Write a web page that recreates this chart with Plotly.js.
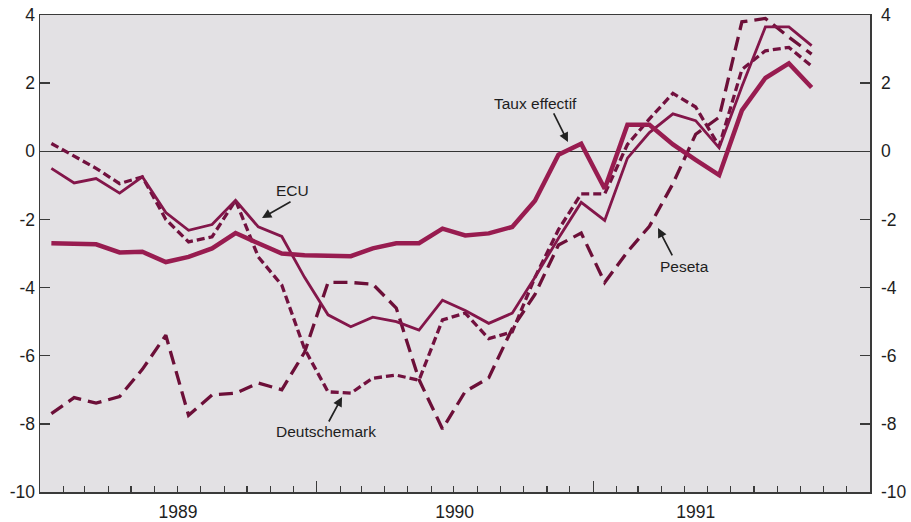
<!DOCTYPE html>
<html><head><meta charset="utf-8">
<script src="https://cdn.plot.ly/plotly-3.0.1.min.js"></script>
<style>html,body{margin:0;padding:0;background:#fff}#chart{width:911px;height:522px}</style>
</head><body><div id="chart"></div>
<script>
const months = [
  "1989-01-16","1989-02-15","1989-03-16","1989-04-16","1989-05-16","1989-06-16",
  "1989-07-16","1989-08-16","1989-09-16","1989-10-16","1989-11-16","1989-12-16",
  "1990-01-16","1990-02-15","1990-03-16","1990-04-16","1990-05-16","1990-06-16",
  "1990-07-16","1990-08-16","1990-09-16","1990-10-16","1990-11-16","1990-12-16",
  "1991-01-16","1991-02-15","1991-03-16","1991-04-16","1991-05-16","1991-06-16",
  "1991-07-16","1991-08-16","1991-09-16","1991-10-16"
];
const tauxEffectif = [-2.70,-2.72,-2.73,-2.97,-2.95,-3.25,-3.10,-2.85,-2.40,-2.70,-3.00,-3.05,
  -3.05,-3.08,-2.85,-2.70,-2.70,-2.27,-2.47,-2.41,-2.22,-1.45,-0.10,0.22,
  -1.10,0.78,0.78,0.20,-0.25,-0.70,1.20,2.15,2.58,1.87];
const ecu = [-0.50,-0.93,-0.80,-1.23,-0.75,-1.80,-2.32,-2.15,-1.44,-2.22,-2.50,-3.70,
  -4.80,-5.15,-4.87,-5.00,-5.25,-4.37,-4.67,-5.05,-4.75,-3.70,-2.55,-1.50,
  -2.03,-0.20,0.55,1.10,0.90,0.10,1.90,3.65,3.65,3.10];
const deutschemark = [0.23,-0.15,-0.50,-0.95,-0.75,-2.00,-2.66,-2.51,-1.44,-3.10,-3.93,-5.80,
  -7.06,-7.10,-6.66,-6.57,-6.72,-4.95,-4.75,-5.50,-5.30,-3.70,-2.30,-1.25,
  -1.25,0.20,0.95,1.70,1.30,0.15,2.40,2.95,3.05,2.50];
const peseta = [-7.70,-7.23,-7.39,-7.20,-6.40,-5.40,-7.75,-7.15,-7.10,-6.80,-7.00,-5.90,
  -3.85,-3.85,-3.90,-4.60,-6.70,-8.15,-7.05,-6.65,-5.20,-4.20,-2.75,-2.40,
  -3.85,-2.95,-2.20,-0.95,0.50,1.00,3.80,3.90,3.35,2.85];
const yearLabels = ["1989","1990","1991"];
const yearLabelDates = ["1989-07-02","1990-07-02","1991-05-16"];
const yearBoundaries = ["1989-01-01","1990-01-01","1991-01-01","1992-01-01"];
const yTicks = [-10,-8,-6,-4,-2,0,2,4];
const yTickText = ["-10","-8","-6","-4","-2","0","2","4"];

const axisCol = '#3a3a3a';
const tickFont = {family:'Liberation Sans, Arial, sans-serif', size:17.5, color:'#1e1e1e'};

const traces = [
  {x:months, y:peseta, name:'Peseta', mode:'lines', line:{color:'#6c0f38', width:3.3, dash:'14px,7px'}},
  {x:months, y:deutschemark, name:'Deutschemark', mode:'lines', line:{color:'#72113f', width:3.3, dash:'8px,4px'}},
  {x:months, y:ecu, name:'ECU', mode:'lines', line:{color:'#83164a', width:2.8}},
  {x:months, y:tauxEffectif, name:'Taux effectif', mode:'lines', xaxis:'x2', yaxis:'y2', line:{color:'#981c50', width:4.5}}
];

const annFont = {family:'Liberation Sans, Arial, sans-serif', size:15.5, color:'#1e1e1e'};
function label(t, x, y){ return {text:t, xref:'paper', yref:'paper', x:x, y:y, showarrow:false, font:annFont, xanchor:'center', yanchor:'middle'}; }
function arrow(x, y, ax, ay){ return {text:'', xref:'paper', yref:'paper', x:x, y:y, ax:ax, ay:ay, showarrow:true, arrowhead:2, arrowsize:1.1, arrowwidth:1.7, arrowcolor:'#222'}; }

const layout = {
  width:911, height:522,
  margin:{l:40, r:41, t:15, b:30},
  paper_bgcolor:'#ffffff', plot_bgcolor:'#e3e1e4',
  showlegend:false,
  xaxis:{type:'date', range:['1989-01-01','1992-01-01'], tickmode:'array', tickvals:yearBoundaries,
    ticktext:['','','',''], ticks:'inside', ticklen:11, tickwidth:1.5, tickcolor:axisCol,
    showline:true, linecolor:axisCol, linewidth:1.5, mirror:true, showgrid:false, zeroline:false,
    minor:{tickmode:'linear', tick0:'1989-01-01', dtick:'M1', ticks:'inside', ticklen:6, tickwidth:1.2, tickcolor:axisCol, showgrid:false}},
  xaxis2:{type:'date', overlaying:'x', anchor:'y', side:'bottom', range:['1989-01-01','1992-01-01'],
    tickmode:'array', tickvals:yearLabelDates, ticktext:yearLabels, ticks:'', showline:false, showgrid:false,
    zeroline:false, tickfont:tickFont, ticklabelstandoff:7},
  yaxis:{range:[-10,4], tickmode:'array', tickvals:yTicks, ticktext:yTickText, ticks:'inside', ticklen:10,
    tickwidth:1.5, tickcolor:axisCol, showline:true, linecolor:axisCol, linewidth:1.5, mirror:true,
    showgrid:false, zeroline:true, zerolinecolor:'#333', zerolinewidth:1.2, tickfont:tickFont, ticklabelstandoff:0},
  yaxis2:{range:[-10,4], overlaying:'y', side:'right', anchor:'x', tickmode:'array', tickvals:yTicks, ticktext:yTickText,
    ticks:'inside', ticklen:10, tickwidth:1.5, tickcolor:axisCol, showline:false, showgrid:false, zeroline:false,
    tickfont:tickFont, ticklabelstandoff:10},
  annotations:[
    label('ECU', 0.3048, 0.633), arrow(0.2675, 0.5744, 30, -17),
    label('Taux effectif', 0.5964, 0.8155), arrow(0.6361, 0.7338, -15, -30),
    label('Peseta', 0.7771, 0.4717), arrow(0.7446, 0.5535, 15, 29),
    label('Deutschemark', 0.3446, 0.1258), arrow(0.3639, 0.1992, -14, 26)
  ]
};
Plotly.newPlot('chart', traces, layout, {staticPlot:true, displayModeBar:false});
</script></body></html>
